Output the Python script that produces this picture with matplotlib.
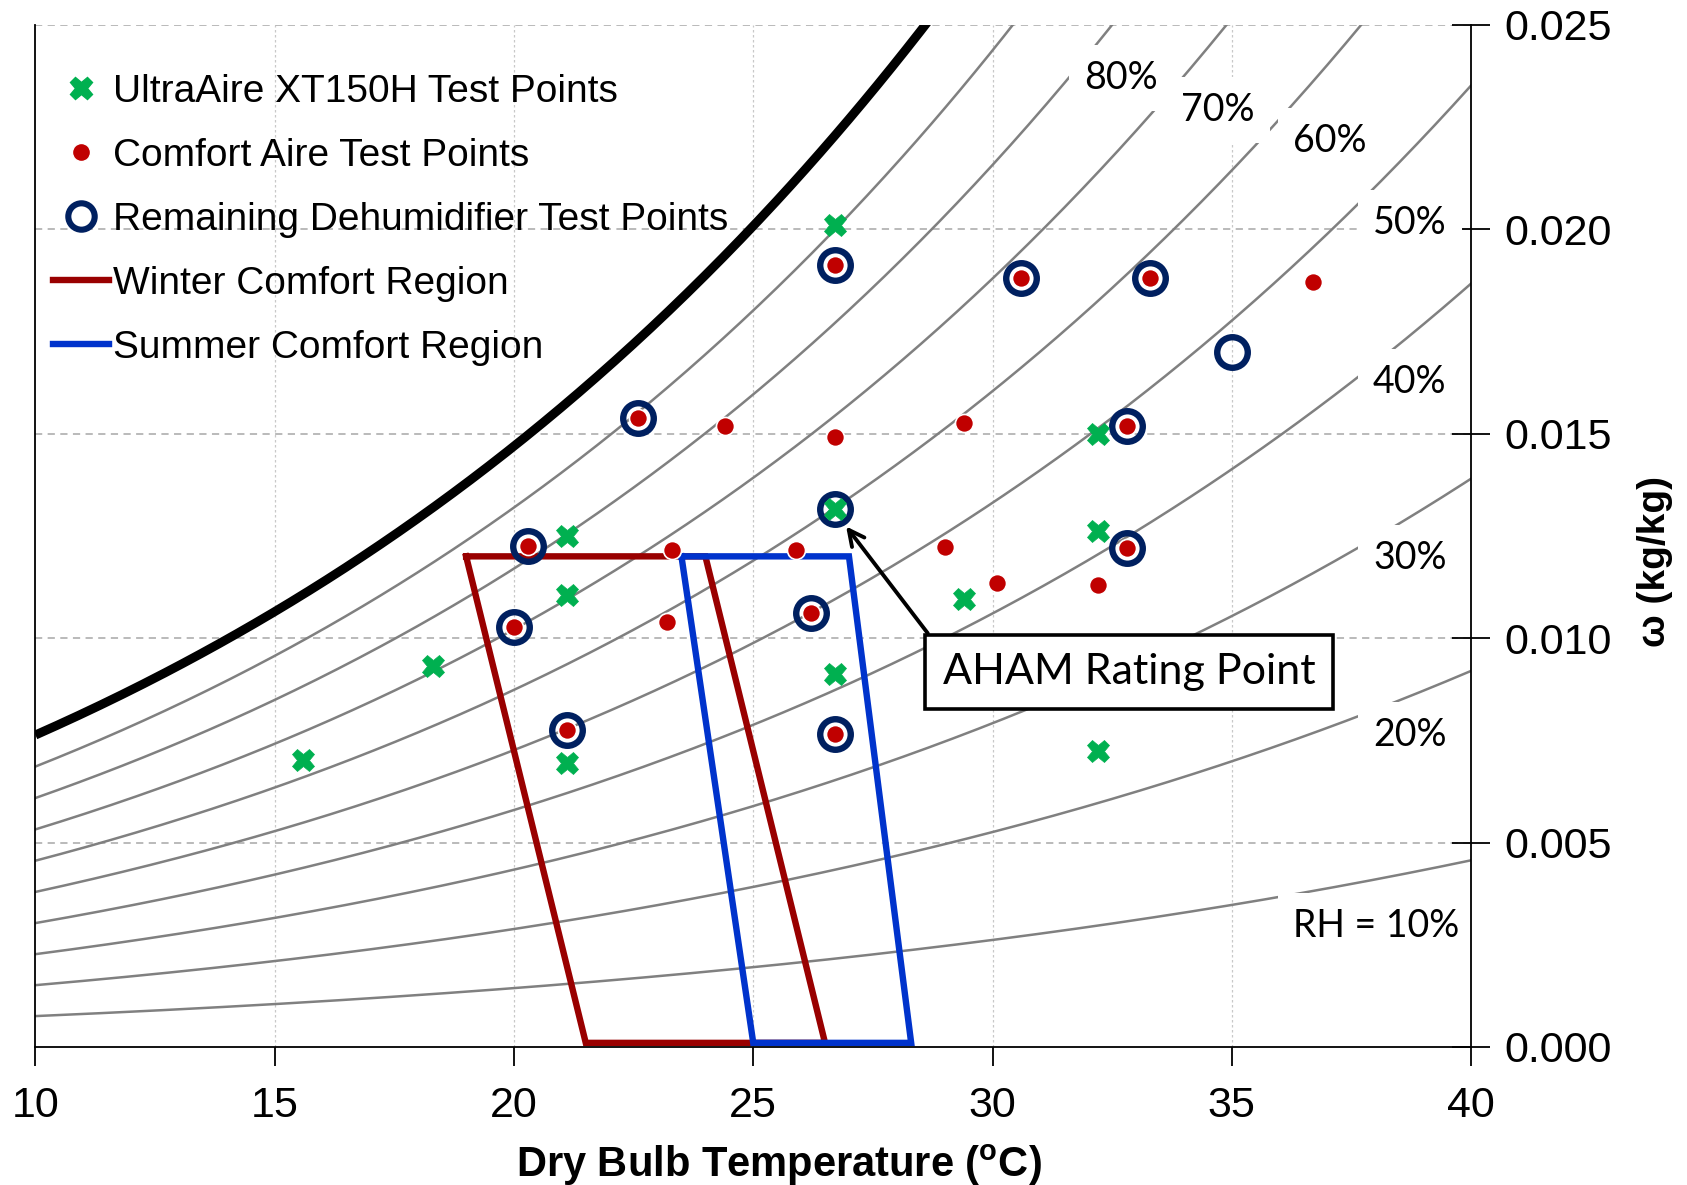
import numpy as np
import matplotlib
matplotlib.use("Agg")
import matplotlib.pyplot as plt
from matplotlib.lines import Line2D

plt.rcParams['font.family'] = ['Liberation Sans', 'DejaVu Sans']
plt.rcParams['mathtext.fontset'] = 'custom'
plt.rcParams['mathtext.rm'] = 'Liberation Sans'
plt.rcParams['mathtext.bf'] = 'Liberation Sans:bold'

# ---- data -------------------------------------------------------------
# UltraAire XT150H test points (dry bulb degC, humidity ratio kg/kg)
ultra_t = [15.6, 18.3, 21.1, 21.1, 21.1, 26.7, 26.7, 26.7, 29.4, 32.2, 32.2, 32.2]
ultra_w = [0.00703, 0.00932, 0.01250, 0.01105, 0.00695, 0.02010, 0.01316, 0.00913,
           0.01095, 0.01500, 0.01263, 0.00724]

# Comfort Aire test points
comfort_t = [26.7, 30.6, 33.3, 36.7, 22.6, 24.4, 26.7, 29.4, 32.8, 20.3, 23.3, 25.9,
             29.0, 32.8, 30.1, 32.2, 23.2, 26.2, 20.0, 21.1, 26.7]
comfort_w = [0.01913, 0.01882, 0.01882, 0.01871, 0.01539, 0.01518, 0.01492, 0.01526,
             0.01518, 0.01226, 0.01216, 0.01216, 0.01224, 0.01221, 0.01134, 0.01129,
             0.01039, 0.01061, 0.01026, 0.00776, 0.00766]

# Remaining dehumidifier test points
remain_t = [26.7, 30.6, 33.3, 35.0, 22.6, 32.8, 26.7, 20.3, 32.8, 26.2, 20.0, 21.1, 26.7]
remain_w = [0.01913, 0.01882, 0.01882, 0.01700, 0.01539, 0.01518, 0.01316, 0.01226,
            0.01221, 0.01061, 0.01026, 0.00776, 0.00766]

# Comfort regions (closed polygons)
winter_t = [19.0, 24.0, 26.5, 21.5, 19.0]
winter_w = [0.0120, 0.0120, 0.0001, 0.0001, 0.0120]
summer_t = [23.5, 27.0, 28.3, 25.0, 23.5]
summer_w = [0.0120, 0.0120, 0.0001, 0.0001, 0.0120]

# Relative humidity curves and their labels
rh_levels = [0.1, 0.2, 0.3, 0.4, 0.5, 0.6, 0.7, 0.8, 0.9, 1.0]
rh_labels = ['RH = 10%', '20%', '30%', '40%', '50%', '60%', '70%', '80%']
rh_label_t = [38.02, 38.72, 38.72, 38.72, 38.72, 37.05, 34.71, 32.69]
rh_label_w = [0.00297, 0.00763, 0.01195, 0.01626, 0.02016, 0.02216, 0.02292, 0.02371]

aham_point = (26.87, 0.01284)
aham_text = (32.85, 0.00918)

x_ticks = [10, 15, 20, 25, 30, 35, 40]
y_ticks = [0.000, 0.005, 0.010, 0.015, 0.020, 0.025]

P_ATM = 101325.0


def p_sat(t_c):
    """Saturation vapour pressure over water (Pa), Hyland-Wexler."""
    T = np.asarray(t_c) + 273.15
    ln_p = (-5.8002206e3 / T + 1.3914993 - 4.8640239e-2 * T + 4.1764768e-5 * T ** 2
            - 1.4452093e-8 * T ** 3 + 6.5459673 * np.log(T))
    return np.exp(ln_p)


def humidity_ratio(t_c, rh):
    pw = rh * p_sat(t_c)
    return 0.621945 * pw / (P_ATM - pw)


# ---- figure -----------------------------------------------------------
fig = plt.figure(figsize=(16.87, 11.85), dpi=100)
ax = fig.add_axes([0.021, 0.1165, 0.851, 0.8625])

ax.set_xlim(10, 40)
ax.set_ylim(0, 0.025)

# grid
for xv in x_ticks[1:-1]:
    ax.axvline(xv, color='#c8c8c8', lw=0.9, ls=(0, (2, 2)), zorder=0)
for yv in y_ticks[1:]:
    ax.axhline(yv, color='#b4b4b4', lw=1.3, ls=(0, (4, 3)), zorder=0)

# RH curves
tt = np.linspace(10, 40, 400)
for rh in rh_levels:
    ww = humidity_ratio(tt, rh)
    if rh == 1.0:
        ax.plot(tt, ww, color='black', lw=6.5, zorder=2, solid_capstyle='butt')
    else:
        ax.plot(tt, ww, color='#808080', lw=1.8, zorder=1)

# RH labels with white backgrounds
for lab, xt, yt in zip(rh_labels, rh_label_t, rh_label_w):
    ax.text(xt, yt, lab, ha='center', va='center', fontsize=27,
            family=['Lato', 'DejaVu Sans'], zorder=3,
            bbox=dict(boxstyle='square,pad=0.4', fc='white', ec='none'))

# comfort regions
ax.plot(winter_t, winter_w, color='#990000', lw=4.6, zorder=4, solid_joinstyle='miter')
ax.plot(summer_t, summer_w, color='#0033CC', lw=4.6, zorder=4, solid_joinstyle='miter')

# test points
ax.plot(remain_t, remain_w, ls='none', marker='o', ms=22, mfc='none', mec='#002060',
        mew=4.6, zorder=5)
ax.plot(ultra_t, ultra_w, ls='none', marker='X', ms=16, color='#00B050', mec='#00B050',
        mew=0.5, zorder=6)
ax.plot(comfort_t, comfort_w, ls='none', marker='o', ms=13, mfc='#C00000', mec='white',
        mew=1.2, zorder=7)

# AHAM rating point annotation
ax.annotate('AHAM Rating Point', xy=aham_point, xytext=aham_text,
            ha='center', va='center', fontsize=31, family=['Lato', 'DejaVu Sans'],
            zorder=8,
            bbox=dict(boxstyle='square,pad=0.42', fc='white', ec='black', lw=2.6),
            arrowprops=dict(arrowstyle='->', color='black', lw=2.8, mutation_scale=28,
                            relpos=(0, 1), shrinkA=0, shrinkB=4))

# axes styling
ax.spines['top'].set_visible(False)
for side in ['left', 'right', 'bottom']:
    ax.spines[side].set_color('black')
    ax.spines[side].set_linewidth(1.3)
    ax.spines[side].set_zorder(9)

ax.yaxis.tick_right()
ax.yaxis.set_label_position('right')
ax.set_xticks(x_ticks)
ax.set_yticks(y_ticks)
ax.set_yticklabels([f'{v:.3f}' for v in y_ticks])
ax.tick_params(axis='x', direction='out', length=14, width=1.3, labelsize=31, pad=14)
ax.tick_params(axis='y', direction='inout', length=28, width=1.3, labelsize=31, pad=10)

ax.set_xlabel(r'Dry Bulb Temperature ($\mathbf{^o}$C)', fontsize=30, fontweight='bold',
              labelpad=12)
ax.xaxis.label.set_x(0.518)
ax.set_ylabel('ω (kg/kg)', fontsize=28, fontweight='bold', rotation=90, labelpad=18)
ax.yaxis.label.set_y(0.475)

# legend
handles = [
    Line2D([], [], ls='none', marker='X', ms=16, color='#00B050'),
    Line2D([], [], ls='none', marker='o', ms=13, mfc='#C00000', mec='white'),
    Line2D([], [], ls='none', marker='o', ms=19, mfc='none', mec='#002060', mew=4.4),
    Line2D([], [], color='#990000', lw=4.6),
    Line2D([], [], color='#0033CC', lw=4.6),
]
labels = ['UltraAire XT150H Test Points', 'Comfort Aire Test Points',
          'Remaining Dehumidifier Test Points', 'Winter Comfort Region',
          'Summer Comfort Region']
leg = ax.legend(handles, labels, loc='upper left', bbox_to_anchor=(-0.007, 0.979),
                frameon=False, fontsize=28, handlelength=1.45, handletextpad=0.1,
                labelspacing=0.72, borderaxespad=0.3)
leg.set_zorder(10)

fig.savefig('out.png', dpi=100)
